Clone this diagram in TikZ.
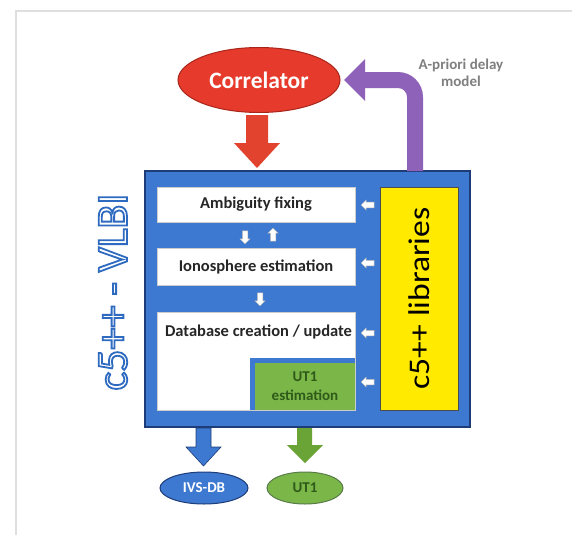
\documentclass[tikz,border=0pt]{standalone}
\usepackage{fontspec}
\setmainfont{Carlito}
\usetikzlibrary{shapes.geometric,shapes.arrows}
\definecolor{corred}{HTML}{E63B2C}
\definecolor{corredd}{HTML}{A8251A}
\definecolor{arrred}{HTML}{E2432F}
\definecolor{purp}{HTML}{8E62B8}
\definecolor{boxblue}{HTML}{3D79D1}
\definecolor{blued}{HTML}{1E3D78}
\definecolor{txtblue}{HTML}{2E6BC0}
\definecolor{ylw}{HTML}{FFEA00}
\definecolor{grn}{HTML}{7AB648}
\definecolor{grnd}{HTML}{2F5A1A}
\definecolor{grnarr}{HTML}{6AA336}
\definecolor{lblgray}{HTML}{7F7F7F}
\begin{document}
\begin{tikzpicture}[x=1pt,y=-1pt,
  whitebox/.style={rectangle, fill=white, draw=gray!40, line width=0.4pt, inner sep=0pt},
  smallarr/.style={single arrow, draw=gray!60, fill=white, line width=0.5pt,
    minimum height=13pt, minimum width=10pt, single arrow head extend=2pt, inner sep=2.2pt},
  lbl/.style={font=\bfseries\fontsize{16.5}{19}\selectfont, text=black!85}
]
\useasboundingbox (0,0) rectangle (572,535);
\fill[white] (0,0) rectangle (572,535);
% faint frame
\draw[gray!25, line width=1.2pt] (16,535) -- (16,11) -- (572,11);

% correlator
\node[ellipse, minimum width=162pt, minimum height=65pt, fill=corred, draw=corredd, line width=1pt,
  text=white, font=\bfseries\fontsize{23.5}{26}\selectfont] (corr) at (259,80) {Correlator};

% main blue box
\node[rectangle, fill=boxblue, draw=blued, line width=1.2pt, minimum width=325pt, minimum height=256pt, inner sep=0pt]
  (main) at (307.5,299) {};

% red arrow
\fill[arrred] (246,115) -- (268,115) -- (268,143) -- (280,143) -- (257,168) -- (234,143) -- (246,143) -- cycle;

% purple bent arrow
\fill[purp] (423,171) -- (423,97) arc[start angle=0, end angle=-90, radius=25] -- (365,72)
  -- (365,59) -- (344,80) -- (365,101) -- (365,88) -- (398,88)
  arc[start angle=-90, end angle=0, radius=9] -- (407,171) -- cycle;
\node[font=\bfseries\fontsize{15}{17}\selectfont, text=lblgray, align=center] (apriori) at (461,73)
  {A-priori delay\\model};

% white boxes
\node[whitebox, minimum width=198pt, minimum height=35pt, lbl] (amb) at (256,204.5) {Ambiguity fixing};
\node[whitebox, minimum width=198pt, minimum height=37pt, lbl] (iono) at (256,266.5) {Ionosphere estimation};
\node[whitebox, minimum width=198pt, minimum height=98pt] (db) at (256,361) {};
\node[lbl] (dbt) at (258.5,332) {Database creation / update};
\fill[boxblue] (250,358) rectangle (355,410);
\node[rectangle, fill=grn, minimum width=100pt, minimum height=47pt, inner sep=0pt,
  font=\bfseries\fontsize{15}{19}\selectfont, text=grnd, align=center] (ut1box) at (305,386.5) {UT1\\estimation};

% yellow libraries
\node[rectangle, fill=ylw, draw=black!70, line width=0.8pt, minimum width=78pt, minimum height=223pt, inner sep=0pt]
  (lib) at (419,298.5) {};
\node[rotate=90, font=\fontsize{30}{34}\selectfont] (libt) at (lib.center) {\scalebox{1.12}[1]{c5++ libraries}};

% left outlined title
\node[rotate=90, text=txtblue, font=\fontsize{44}{48}\selectfont] (title) at (113,292)
  {\special{pdf:literal direct 1 Tr 1.8 w}c5++ - VLBI\special{pdf:literal direct 0 Tr}};

% small white arrows
\node[smallarr, shape border rotate=180] (la1) at (369,205) {};
\node[smallarr, shape border rotate=180] (la2) at (369,263) {};
\node[smallarr, shape border rotate=180] (la3) at (369,333) {};
\node[smallarr, shape border rotate=180] (la4) at (369,382) {};
\node[smallarr, shape border rotate=270] (da1) at (245,236) {};
\node[smallarr, shape border rotate=90] (ua1) at (273,236) {};
\node[smallarr, shape border rotate=270] (da2) at (260,298) {};

% bottom arrows
\fill[boxblue, draw=blued, line width=0.6pt] (196,428) -- (211,428) -- (211,447) -- (221,447) -- (203.5,466) -- (186,447) -- (196,447) -- cycle;
\fill[grnarr] (297,428) -- (312,428) -- (312,445) -- (323,445) -- (305,463) -- (287,445) -- (297,445) -- cycle;

% output ellipses
\node[ellipse, minimum width=88pt, minimum height=32pt, fill=boxblue, draw=blued, line width=1pt,
  text=white, font=\bfseries\fontsize{15}{18}\selectfont] (ivs) at (204,488) {IVS-DB};
\node[ellipse, minimum width=76pt, minimum height=32pt, fill=grn, draw=grnd!80, line width=1pt,
  text=grnd, font=\bfseries\fontsize{15}{18}\selectfont] (ut1) at (305,488) {UT1};
\end{tikzpicture}
\end{document}
